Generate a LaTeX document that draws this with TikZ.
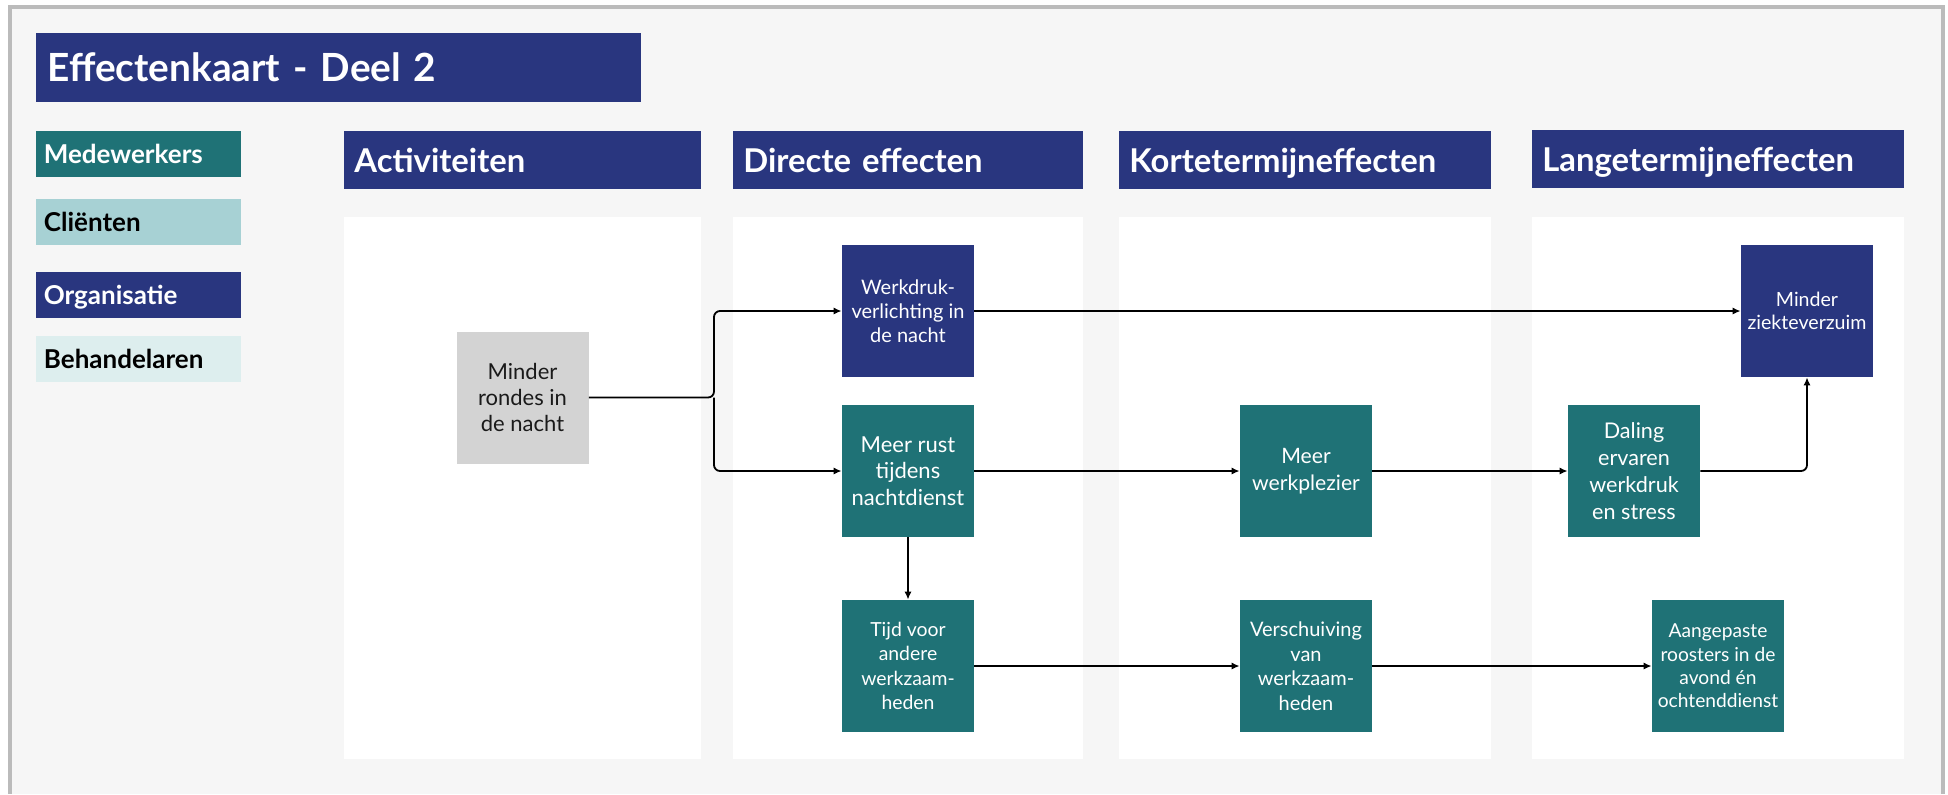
\documentclass[tikz,border=0pt]{standalone}
\usepackage{fontspec}
\setmainfont{Lato}
\usetikzlibrary{arrows.meta}
\definecolor{navy}{HTML}{29367F}
\definecolor{tealc}{HTML}{1F7276}
\definecolor{ltteal}{HTML}{A7D1D4}
\definecolor{paleteal}{HTML}{DDEEEE}
\definecolor{nodegray}{HTML}{D3D3D3}
\definecolor{bggray}{HTML}{F6F6F6}
\definecolor{framegray}{HTML}{BBBBBB}
\definecolor{darktext}{HTML}{1A1A1A}
\tikzset{
  titlebox/.style={fill=navy, text=white, anchor=north west, inner xsep=5.5pt, inner ysep=0pt,
    text width=291.5pt, minimum height=34.5pt, align=left, text height=13.9pt, text depth=0pt,
    font=\fontsize{19.4}{22}\selectfont\bfseries},
  legendbox/.style={anchor=north west, inner xsep=3.75pt, inner ysep=0pt, text width=95pt,
    minimum height=23pt, align=left, text height=9.4pt, text depth=0pt,
    font=\fontsize{13}{15}\selectfont\bfseries},
  header/.style={fill=navy, text=white, anchor=north west, inner xsep=5pt, inner ysep=0pt,
    minimum height=29pt, align=left, text height=11.8pt, text depth=0pt,
    font=\fontsize{16.4}{19}\selectfont\bfseries},
  box/.style={minimum width=66pt, minimum height=66pt, inner sep=0pt, align=center, text=white},
  tealbox/.style={box, fill=tealc},
  navybox/.style={box, fill=navy},
  graybox/.style={box, fill=nodegray, text=darktext},
  arr/.style={-{Latex[length=4pt,width=3.6pt]}, line width=0.9pt, black},
}
\begin{document}
\begin{tikzpicture}[x=0.5pt,y=-0.5pt]
\useasboundingbox (0,0) rectangle (1948,794);
\fill[white] (0,0) rectangle (1948,794);
\fill[bggray] (10,7) rectangle (1943,794);
\draw[framegray, line width=1.75pt] (10,794) -- (10,7) -- (1943,7) -- (1943,794);

% title
\node[titlebox] (title) at (36,33) {Effectenkaart - Deel 2};

% legend
\node[legendbox, fill=tealc, text=white] (lmed) at (36,131) {Medewerkers};
\node[legendbox, fill=ltteal, text=black] (lcli) at (36,199) {Cliënten};
\node[legendbox, fill=navy, text=white] (lorg) at (36,272) {Organisatie};
\node[legendbox, fill=paleteal, text=black] (lbeh) at (36,336) {Behandelaren};

% panels
\fill[white] (344,217) rectangle (701,759);
\fill[white] (733,217) rectangle (1083,759);
\fill[white] (1119,217) rectangle (1491,759);
\fill[white] (1532,217) rectangle (1904,759);

% headers
\node[header, text width=168.5pt] (h1) at (344,131) {Activiteiten};
\node[header, text width=165pt] (h2) at (733,131) {Directe effecten};
\node[header, text width=176pt] (h3) at (1119,131) {Kortetermijneffecten};
\node[header, text width=176pt] (h4) at (1532,130) {Langetermijneffecten};

% nodes
\node[graybox, font=\fontsize{11}{13}\selectfont] (rondes) at (522.5,397.5) {Minder\\rondes in\\de nacht};
\node[navybox, font=\fontsize{10}{12}\selectfont] (werk) at (908,311) {Werkdruk-\\verlichting in\\de nacht};
\node[tealbox, font=\fontsize{11}{13.25}\selectfont] (rust) at (908,471) {Meer rust\\tijdens\\nachtdienst};
\node[tealbox, font=\fontsize{9.7}{12.3}\selectfont] (tijd) at (908,666) {Tijd voor\\andere\\werkzaam-\\heden};
\node[tealbox, font=\fontsize{10.6}{13.5}\selectfont] (plezier) at (1306,471) {Meer\\werkplezier};
\node[tealbox, font=\fontsize{10}{12.3}\selectfont] (versch) at (1306,666) {Verschuiving\\van\\werkzaam-\\heden};
\node[tealbox, font=\fontsize{10.8}{13.5}\selectfont] (daling) at (1634,471) {Daling\\ervaren\\werkdruk\\en stress};
\node[navybox, font=\fontsize{9.8}{11.7}\selectfont] (ziekte) at (1807,311) {Minder\\ziekteverzuim};
\node[tealbox, font=\fontsize{9.6}{11.7}\selectfont] (aangepast) at (1718,666) {Aangepaste\\roosters in de\\avond én\\ochtenddienst};

% connectors
\coordinate (fork) at (714,397.5);
\draw[arr, rounded corners=3pt] (rondes.east) -- (fork) |- (werk.west);
\draw[arr, rounded corners=3pt] (fork) |- (rust.west);
\draw[arr] (werk.east) -- (ziekte.west);
\draw[arr] (rust.east) -- (plezier.west);
\draw[arr] (plezier.east) -- (daling.west);
\draw[arr, rounded corners=3pt] (daling.east) -| (ziekte.south);
\draw[arr] (rust.south) -- (tijd.north);
\draw[arr] (tijd.east) -- (versch.west);
\draw[arr] (versch.east) -- (aangepast.west);
\end{tikzpicture}
\end{document}
